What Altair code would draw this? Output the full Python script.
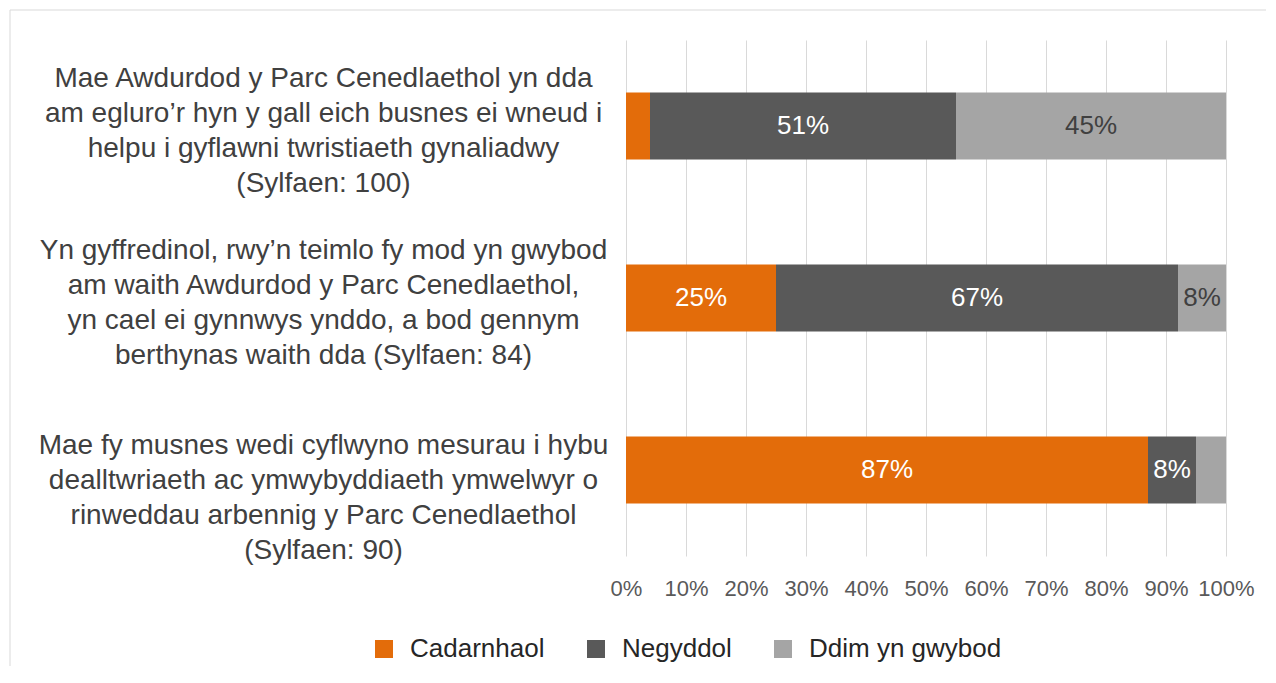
import altair as alt
import pandas as pd

categories = [
    "Mae Awdurdod y Parc Cenedlaethol yn dda|am egluro’r hyn y gall eich busnes ei wneud i|helpu i gyflawni twristiaeth gynaliadwy|(Sylfaen: 100)",
    "Yn gyffredinol, rwy’n teimlo fy mod yn gwybod|am waith Awdurdod y Parc Cenedlaethol,|yn cael ei gynnwys ynddo, a bod gennym|berthynas waith dda (Sylfaen: 84)",
    "Mae fy musnes wedi cyflwyno mesurau i hybu|dealltwriaeth ac ymwybyddiaeth ymwelwyr o|rinweddau arbennig y Parc Cenedlaethol|(Sylfaen: 90)",
]
series = ["Cadarnhaol", "Negyddol", "Ddim yn gwybod"]
cadarnhaol = [4, 25, 87]
negyddol = [51, 67, 8]
ddim = [45, 8, 5]
colors = ["#E36C0A", "#595959", "#A5A5A5"]

rows = []
for i, c in enumerate(categories):
    for j, (s, vals) in enumerate(zip(series, [cadarnhaol, negyddol, ddim])):
        rows.append({"cat": c, "series": s, "order": j, "value": vals[i] / 100})
df = pd.DataFrame(rows)

base = alt.Chart(df).transform_stack(
    stack="value", groupby=["cat"], as_=["x0", "x1"], sort=[alt.SortField("order")]
).transform_calculate(mid="(datum.x0 + datum.x1) / 2")

first_cat = categories[0].replace("'", "\\'")
last_cat = categories[2].replace("'", "\\'")

yenc = alt.Y(
    "cat:N",
    sort=categories,
    title=None,
    scale=alt.Scale(paddingInner=0.61, paddingOuter=0.305),
    axis=alt.Axis(
        domain=False, ticks=False, grid=False,
        labelExpr="split(datum.label, '|')",
        labelAlign="center", labelBaseline="middle",
        labelOffset={"condition": {"test": f"datum.value == '{last_cat}'", "value": -24}, "value": -47},
        labelPadding=303, labelFontSize=28, labelLineHeight=35,
        labelColor="#404040", labelFont="Liberation Sans", labelLimit=800,
    ),
)

bars = base.mark_bar().encode(
    x=alt.X(
        "x0:Q",
        scale=alt.Scale(domain=[0, 1], nice=False),
        title=None,
        axis=alt.Axis(
            format=".0%", values=[i / 10 for i in range(11)],
            domain=False, ticks=False, grid=True, gridColor="#D9D9D9", gridWidth=1,
            labelFontSize=22, labelColor="#595959", labelFont="Liberation Sans",
            labelPadding=22, labelFlush=False, labelOverlap=False,
        ),
    ),
    x2="x1:Q",
    y=yenc,
    color=alt.Color(
        "series:N",
        scale=alt.Scale(domain=series, range=colors),
        sort=series,
        legend=alt.Legend(
            title=None, orient="none", direction="horizontal",
            legendX=-255, legendY=596,
            symbolType="square", symbolSize=324, symbolStrokeWidth=0,
            labelFontSize=26, labelFont="Liberation Sans", labelColor="#262626",
            labelLimit=400,
            columnPadding=38, gridAlign="none", symbolOffset=0, labelOffset=13,
        ),
    ),
    order=alt.Order("order:Q"),
)

texts = base.transform_filter("datum.value >= 0.08").mark_text(
    fontSize=26, font="Liberation Sans", baseline="middle", align="center"
).encode(
    x="mid:Q",
    y=alt.Y("cat:N", sort=categories),
    text=alt.Text("value:Q", format=".0%"),
    color=alt.condition(
        "datum.series == 'Ddim yn gwybod'", alt.value("#404040"), alt.value("#FFFFFF")
    ),
)

frame = alt.Chart(pd.DataFrame({"a": [0]})).mark_rect(
    fill=None, stroke="#D9D9D9", strokeWidth=1
).encode(
    x=alt.value(-616), x2=alt.value(700), y=alt.value(-30), y2=alt.value(700)
)

chart = alt.layer(frame, bars, texts).properties(
    width=600, height=516,
    padding={"left": 618, "top": 32, "right": 40, "bottom": 110},
    autosize=alt.AutoSizeParams(type="none"),
).configure_view(stroke=None)

chart.save("out.html", embed_options={"renderer": "svg", "actions": False})
